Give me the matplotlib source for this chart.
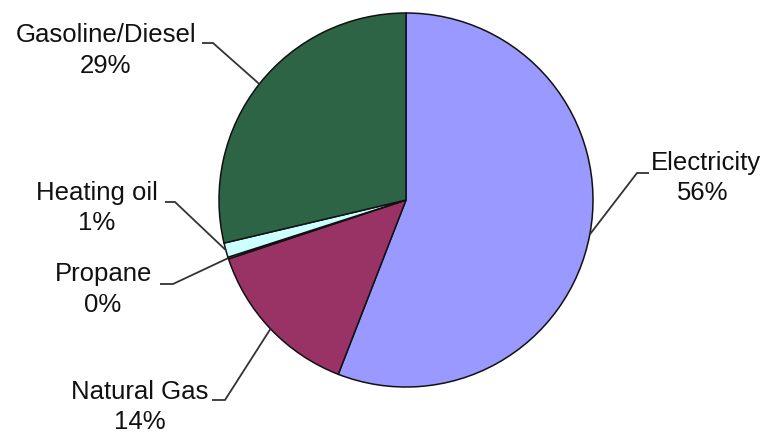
import matplotlib.pyplot as plt
import numpy as np

plt.rcParams['font.family'] = ['Liberation Sans', 'DejaVu Sans']

categories = ["Electricity", "Natural Gas", "Propane", "Heating oil", "Gasoline/Diesel"]
shares = [55.9, 14.0, 0.15, 1.25, 28.7]
colors = ["#9999ff", "#993366", "#ccffff", "#ccffff", "#2e6446"]

W, H = 765, 434
cx, cy, r = 406, 200, 187

# label layout in pixels (top-left origin): name centre, percent centre, elbow, tail end
label_layout = {
    "Electricity":     ((706, 163), (703, 193), (637, 173), (649, 173)),
    "Natural Gas":     ((140, 392), (140, 422), (225, 400), (212, 400)),
    "Propane":         ((104, 274), (103, 305), (173, 284), (160, 284)),
    "Heating oil":     ((97, 193), (97, 223), (175, 202), (165, 202)),
    "Gasoline/Diesel": ((106, 35), (106, 66), (213, 43), (202, 43)),
}

fig = plt.figure(figsize=(W / 100, H / 100), dpi=100)
ax = fig.add_axes([0, 0, 1, 1])
ax.set_xlim(0, W)
ax.set_ylim(0, H)
ax.axis('off')

wedges, _ = ax.pie(shares, colors=colors, startangle=90, counterclock=False,
                   center=(cx, H - cy), radius=r,
                   wedgeprops=dict(edgecolor="#111111", linewidth=1.1))
ax.set_xlim(0, W)
ax.set_ylim(0, H)
ax.set_aspect('equal')

for w, name, val in zip(wedges, categories, shares):
    mid = np.deg2rad((w.theta1 + w.theta2) / 2)
    ex, ey = cx + r * np.cos(mid), (H - cy) + r * np.sin(mid)
    (nx, ny), (px, py), (bx, by), (tx, ty) = label_layout[name]
    ax.plot([ex, bx, tx], [ey, H - by, H - ty], color="#333333", lw=1.3,
            solid_capstyle='butt', solid_joinstyle='miter')
    ax.text(nx, H - ny, name, ha='center', va='center', fontsize=18.5, color="#111111")
    ax.text(px, H - py, "%d%%" % round(val), ha='center', va='center',
            fontsize=18.5, color="#111111")

fig.savefig("out.png", dpi=100)
